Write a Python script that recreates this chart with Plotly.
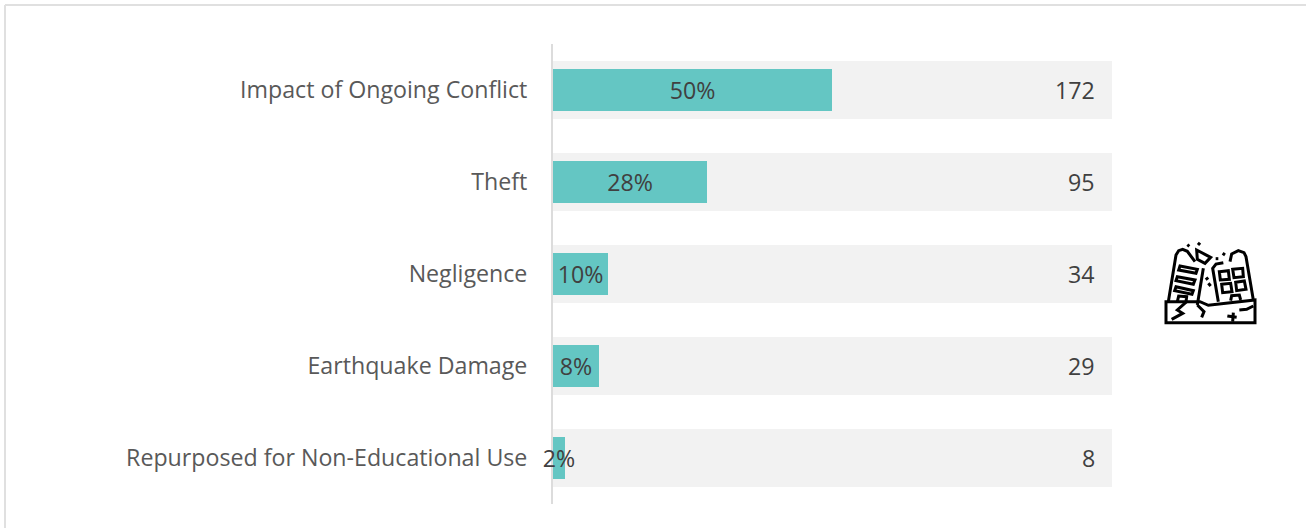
import plotly.graph_objects as go

categories = ["Impact of Ongoing Conflict", "Theft", "Negligence", "Earthquake Damage", "Repurposed for Non-Educational Use"]
shares = [0.499, 0.276, 0.098, 0.082, 0.022]
share_labels = ["50%", "28%", "10%", "8%", "2%"]
counts = [172, 95, 34, 29, 8]
full = [1, 1, 1, 1, 1]

W, H = 1306, 528
FONT = "Open Sans"
SIZE = 23.2

fig = go.Figure()
fig.add_bar(y=categories, x=full, orientation="h", width=0.63, marker=dict(color="#f2f2f2", line_width=0), hoverinfo="skip")
fig.add_bar(y=categories, x=shares, orientation="h", width=0.46, marker=dict(color="#64c6c3", line_width=0),
            text=share_labels, textposition="inside", insidetextanchor="middle", textangle=0,
            constraintext="none", cliponaxis=False,
            textfont=dict(family=FONT, size=SIZE, color="#404040"))

annotations = [dict(x=1, y=c, xref="x", yref="y", text=str(n), showarrow=False, xanchor="right", xshift=-15,
                    font=dict(family=FONT, size=SIZE, color="#404040"))
               for c, n in zip(categories, counts)]

def pts(*p):
    out = []
    for i, (zx, zy) in enumerate(p):
        px = 1140 + zx / 3
        py = 230 + zy / 3
        out.append(f"{'M' if i == 0 else 'L'}{px / W:.5f},{1 - py / H:.5f}")
    return " ".join(out)

icon = [
    pts((78, 215), (180, 215), (205, 226), (345, 210), (345, 278), (78, 278)) + " Z",
    pts((85, 215), (108, 75), (116, 62), (128, 58), (142, 64), (165, 95)),
    pts((190, 115), (172, 225)),
    pts((170, 60), (212, 82), (195, 100), (172, 88)) + " Z",
    pts((235, 215), (218, 115), (228, 102), (250, 98)),
    pts((270, 95), (275, 72), (295, 62), (312, 68), (318, 80), (340, 210)),
    pts((120, 108), (172, 118), (168, 130), (116, 120)) + " Z",
    pts((112, 140), (165, 150), (160, 163), (108, 152)) + " Z",
    pts((108, 170), (160, 182), (156, 193), (104, 182)) + " Z",
    pts((112, 215), (116, 198), (140, 200), (138, 215)),
    pts((238, 125), (265, 122), (268, 148), (241, 150)) + " Z",
    pts((278, 118), (308, 115), (310, 140), (282, 143)) + " Z",
    pts((245, 163), (272, 160), (276, 185), (248, 188)) + " Z",
    pts((287, 157), (313, 153), (318, 178), (290, 182)) + " Z",
    pts((272, 212), (275, 197), (298, 195), (302, 210)),
    pts((140, 215), (112, 240), (128, 250), (95, 268)),
    pts((172, 225), (192, 245), (185, 262)),
    pts((262, 258), (290, 262)),
    pts((280, 248), (278, 275)),
    pts((298, 240), (320, 238), (340, 228)),
    pts((142, 44), (148, 49)),
    pts((174, 45), (180, 38)),
    pts((227, 86), (235, 86)),
    pts((248, 70), (255, 75)),
    pts((197, 149), (205, 143)),
    pts((205, 160), (212, 168)),
]
shapes = [dict(type="path", xref="paper", yref="paper", path=p, line=dict(color="#000000", width=3)) for p in icon]
shapes += [
    dict(type="line", xref="paper", yref="paper", x0=5 / W, x1=1, y0=1 - 5 / H, y1=1 - 5 / H, line=dict(color="#e0e0e0", width=2)),
    dict(type="line", xref="paper", yref="paper", x0=5 / W, x1=5 / W, y0=0, y1=1 - 5 / H, line=dict(color="#e0e0e0", width=2)),
]

fig.update_layout(
    width=W, height=H, barmode="overlay", showlegend=False, bargap=0,
    paper_bgcolor="white", plot_bgcolor="white",
    margin=dict(l=0, r=0, t=0, b=0),
    annotations=annotations, shapes=shapes,
    xaxis=dict(range=[0, 1], domain=[553 / W, 1112 / W], visible=False, fixedrange=True),
    yaxis=dict(type="category", categoryorder="array", categoryarray=categories, autorange=False, range=[4.5, -0.5],
               domain=[1 - 504 / H, 1 - 44 / H], showgrid=False, zeroline=False, layer="below traces",
               showline=True, linecolor="#dcdcdc", linewidth=2,
               ticks="outside", ticklen=19, tickcolor="rgba(0,0,0,0)", tickwidth=1,
               tickfont=dict(family=FONT, size=SIZE, color="#595959")),
)
fig.write_html("out.html", config={"displayModeBar": False},
               post_script="document.body.style.margin='0';document.body.style.overflow='hidden';")
